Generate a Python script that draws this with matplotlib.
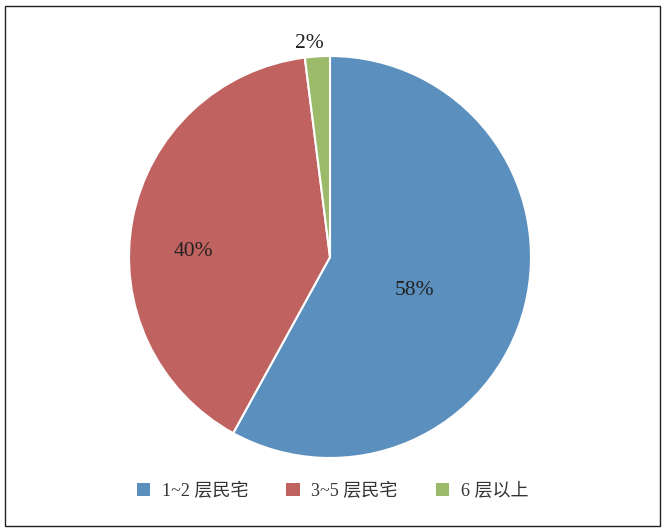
import numpy as np
import matplotlib
matplotlib.use("Agg")
import matplotlib.pyplot as plt
from matplotlib.patches import Rectangle, Patch

categories = ["1~2 层民宅", "3~5 层民宅", "6 层以上"]
values = [58, 40, 2]
pct_labels = ["58%", "40%", "2%"]
colors = ["#5B8FBE", "#C0625F", "#9BBB6A"]
label_radius = [0.455, 0.68, 1.065]
label_angle_shift = [-7.4, 8.3, 2.0]

plt.rcParams['font.family'] = ['Liberation Serif', 'Noto Sans CJK SC', 'DejaVu Sans']

fig = plt.figure(figsize=(6.65, 5.31), dpi=100)
fig.patches.append(Rectangle((4.5/665, 5/531), 655/665, 520/531, transform=fig.transFigure,
                             fill=False, edgecolor="#222222", linewidth=1.0))

ax = fig.add_axes([129/665, 1 - 458/531, 402/665, 402/531])
wedges, _ = ax.pie(values, colors=colors, startangle=90, counterclock=False,
                   radius=1.0, wedgeprops=dict(edgecolor="white", linewidth=1.5))
ax.set_xlim(-1, 1)
ax.set_ylim(-1, 1)
ax.set_aspect('equal')

for w, lab, r, s in zip(wedges, pct_labels, label_radius, label_angle_shift):
    mid = np.deg2rad((w.theta1 + w.theta2) / 2 + s)
    ax.text(r * np.cos(mid), r * np.sin(mid), lab, ha='center', va='center',
            fontsize=15.5, color="#222222")

handles = [Patch(facecolor=c, edgecolor='none') for c in colors]
fig.legend(handles, categories, loc='center', bbox_to_anchor=(0.5, 1 - 491/531),
           ncol=3, frameon=False, fontsize=13, handlelength=0.75, handleheight=0.75,
           columnspacing=2.1, handletextpad=0.65, labelcolor="#333333")

fig.savefig("out.png", dpi=100)
